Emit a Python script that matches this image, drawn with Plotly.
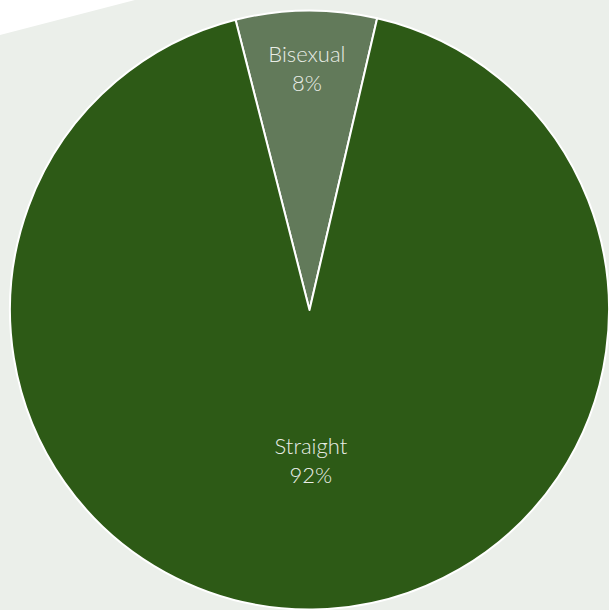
import plotly.graph_objects as go

labels = ["Bisexual", "Straight"]
values = [7.6, 92.4]
pct_text = ["8%", "92%"]
colors = ["#627a5a", "#2d5a16"]

fig = go.Figure(go.Pie(
    labels=labels,
    values=values,
    text=pct_text,
    texttemplate="%{label}<br>%{text}",
    textinfo="text",
    sort=False,
    direction="clockwise",
    rotation=-14.3,
    marker=dict(colors=colors, line=dict(color="#ffffff", width=2)),
    textposition="inside",
    insidetextorientation="horizontal",
    textfont=dict(family="Lato", size=22, color="#e9ede6", weight=300),
    hoverinfo="label+percent",
))

fig.update_layout(
    width=609, height=610,
    margin=dict(l=10, r=0, t=10, b=0),
    paper_bgcolor="#ebefea",
    plot_bgcolor="#ebefea",
    showlegend=False,
    shapes=[dict(type="path", xref="paper", yref="paper",
                 path="M -0.0167 1.0167 L 0.2087 1.0167 L -0.0167 0.9583 Z",
                 fillcolor="#ffffff", line=dict(width=0), layer="below")],
)

fig.write_html("out.html", config={"displayModeBar": False},
               post_script="document.body.style.margin='0';document.body.style.overflow='hidden';")
